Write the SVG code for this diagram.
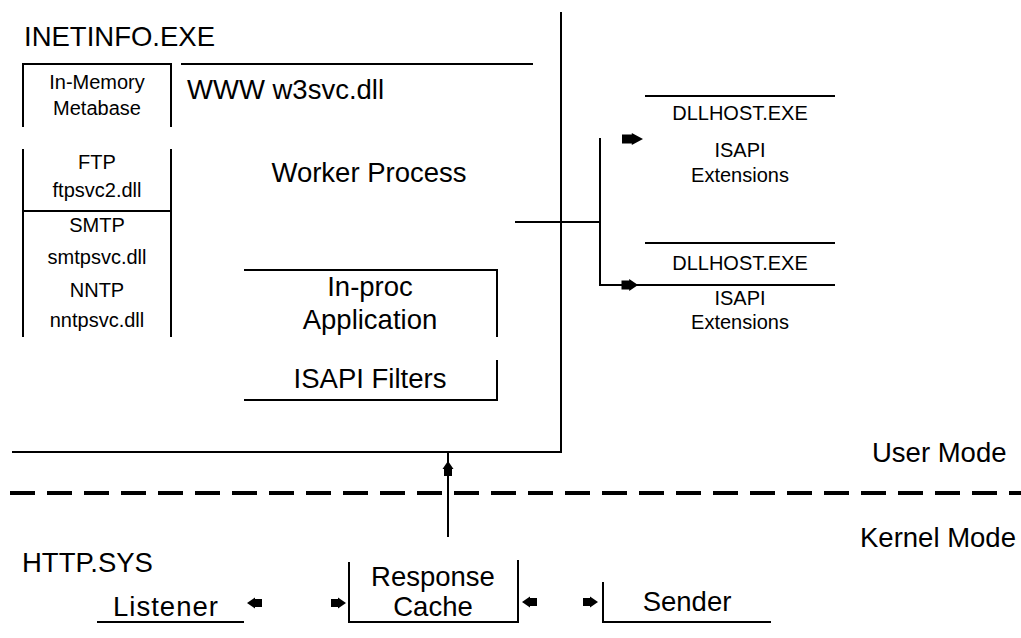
<svg xmlns="http://www.w3.org/2000/svg" xmlns:xlink="http://www.w3.org/1999/xlink" width="1021" height="638" viewBox="0 0 1021 638">
  <style>
    .ln { stroke: #000; stroke-width: 2; fill: none; }
    .t  { font-family: "Liberation Sans", Arial, sans-serif; fill: #000; }
    .big { font-size: 27.5px; }
    .sm  { font-size: 20px; }
    .c  { text-anchor: middle; }
    .dash { stroke: #000; stroke-width: 4; stroke-dasharray: 25 12; fill: none; }
  </style>
  <defs>
    <!-- arrowhead pointing right, tip at origin -->
    <path id="ah" d="M0,0 L-8,-5.5 L-8,-4 L-15,-4 L-15,4 L-8,4 L-8,5.5 Z" fill="#000"/>
  </defs>
  <rect width="1021" height="638" fill="#fff"/>

  <!-- INETINFO.EXE process boundary -->
  <g id="inetinfo">
    <path class="ln" d="M561,12 V452 H12"/>
    <text class="t big" x="24" y="46">INETINFO.EXE</text>
  </g>

  <!-- left column of service modules -->
  <g id="metabase">
    <path class="ln" d="M23,127 V64 H171 V127"/>
    <text class="t sm c" x="97" y="89">In-Memory</text>
    <text class="t sm c" x="97" y="115">Metabase</text>
  </g>
  <g id="ftp">
    <path class="ln" d="M23,149 V211 M171,149 V211"/>
    <text class="t sm c" x="97" y="169">FTP</text>
    <text class="t sm c" x="97" y="197">ftpsvc2.dll</text>
  </g>
  <g id="smtp">
    <path class="ln" d="M23,211 V275 M171,211 V275 M23,211 H171"/>
    <text class="t sm c" x="97" y="232">SMTP</text>
    <text class="t sm c" x="97" y="264">smtpsvc.dll</text>
  </g>
  <g id="nntp">
    <path class="ln" d="M23,275 V337 M171,275 V337"/>
    <text class="t sm c" x="97" y="297">NNTP</text>
    <text class="t sm c" x="97" y="327">nntpsvc.dll</text>
  </g>

  <!-- WWW service / worker process -->
  <g id="www">
    <path class="ln" d="M181,64 H533"/>
    <text class="t big" x="187" y="99">WWW w3svc.dll</text>
    <text class="t big c" x="369" y="182">Worker Process</text>
  </g>
  <g id="inproc">
    <path class="ln" d="M244,270 H497 V337"/>
    <text class="t big c" x="370" y="296">In-proc</text>
    <text class="t big c" x="370" y="329">Application</text>
  </g>
  <g id="isapi-filters">
    <path class="ln" d="M497,360 V400 H244"/>
    <text class="t big c" x="370" y="388">ISAPI Filters</text>
  </g>

  <!-- out-of-process hosts -->
  <g id="dllhost1">
    <path class="ln" d="M645,96 H835"/>
    <text class="t sm c" x="740" y="120">DLLHOST.EXE</text>
    <text class="t sm c" x="740" y="157">ISAPI</text>
    <text class="t sm c" x="740" y="182">Extensions</text>
  </g>
  <g id="dllhost2">
    <path class="ln" d="M645,243 H835"/>
    <text class="t sm c" x="740" y="270">DLLHOST.EXE</text>
    <text class="t sm c" x="740" y="305">ISAPI</text>
    <text class="t sm c" x="740" y="329">Extensions</text>
  </g>

  <!-- mode labels and boundary -->
  <g id="modes">
    <path class="dash" d="M10,493 H1021"/>
    <text class="t big" x="872" y="462">User Mode</text>
    <text class="t big" x="860" y="547">Kernel Mode</text>
  </g>

  <!-- HTTP.SYS kernel components -->
  <g id="httpsys">
    <text class="t big" x="22" y="572">HTTP.SYS</text>
  </g>
  <g id="listener">
    <path class="ln" d="M97,622 H244"/>
    <text class="t big c" x="166" y="616" letter-spacing="1">Listener</text>
  </g>
  <g id="response-cache">
    <path class="ln" d="M349,562 V622 H518 V560"/>
    <text class="t big c" x="433" y="586">Response</text>
    <text class="t big c" x="433" y="616">Cache</text>
  </g>
  <g id="sender">
    <path class="ln" d="M603,582 V622 H771"/>
    <text class="t big c" x="687" y="611">Sender</text>
  </g>

  <!-- connectors -->
  <g id="connectors">
    <path class="ln" d="M515,222 H600"/>
    <path class="ln" d="M600,138 V285 H835"/>
    <use xlink:href="#ah" transform="translate(643,139) scale(1.4,1.1)"/>
    <use xlink:href="#ah" transform="translate(638,285) scale(1.1,1.1)"/>
    <path class="ln" d="M448,537 V452"/>
    <use xlink:href="#ah" transform="translate(448,461) rotate(-90)"/>
    <use xlink:href="#ah" transform="translate(247,603) rotate(180)"/>
    <use xlink:href="#ah" transform="translate(346,603)"/>
    <use xlink:href="#ah" transform="translate(522,602) rotate(180)"/>
    <use xlink:href="#ah" transform="translate(598,602)"/>
  </g>
</svg>
